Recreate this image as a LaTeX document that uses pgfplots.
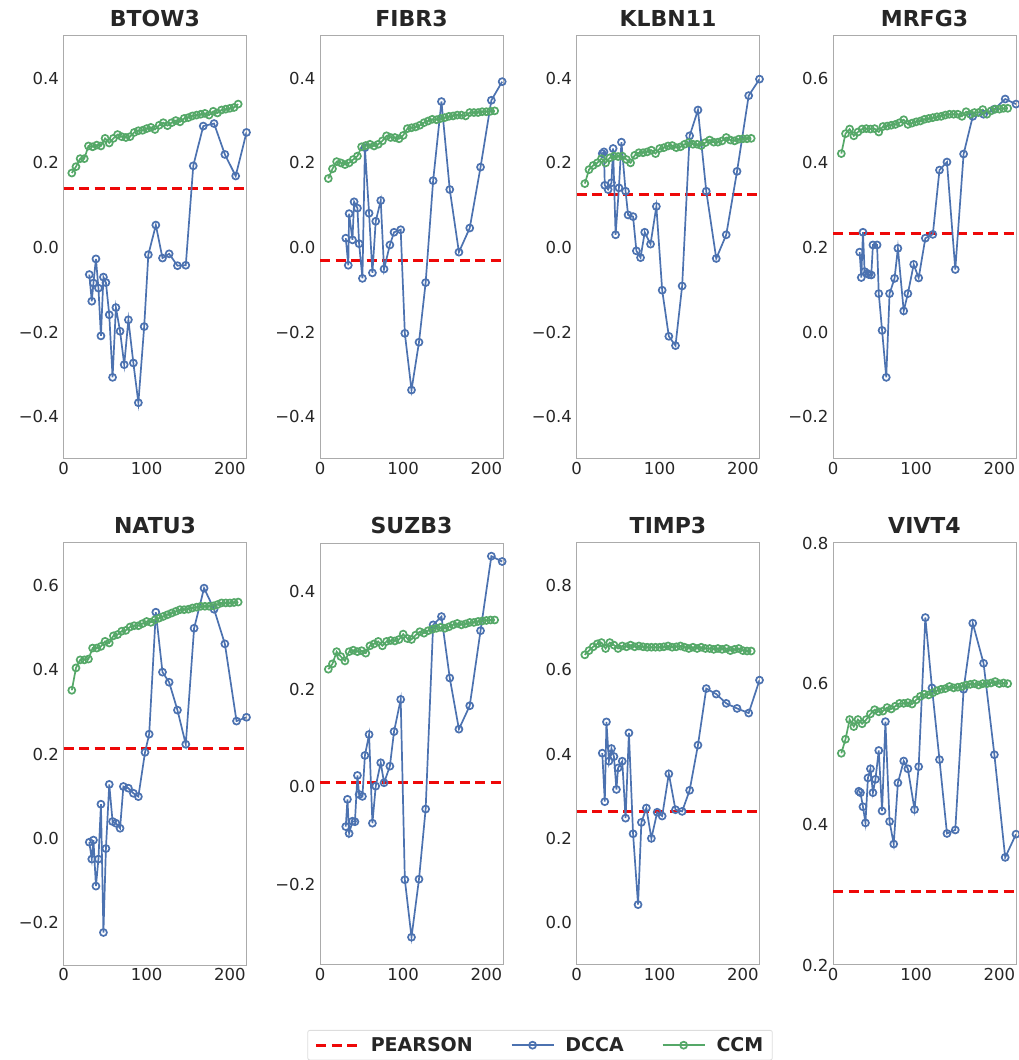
\documentclass[border=0pt]{standalone}
\usepackage{fontspec}
\setmainfont{DejaVu Sans}
\usepackage{pgfplots}
\pgfplotsset{compat=1.18}
\usepackage{pgfplotstable}

\definecolor{dccablue}{HTML}{4C72B0}
\definecolor{ccmgreen}{HTML}{55A868}
\definecolor{pearred}{HTML}{EE0808}
\definecolor{framegray}{HTML}{ABABAB}
\definecolor{txt}{HTML}{262626}
\definecolor{leggray}{HTML}{DDDDDD}

% CCM skill against library size, one column per stock
\pgfplotstableread{
x   BTOW3 FIBR3 KLBN11 MRFG3 NATU3 SUZB3 TIMP3 VIVT4
10  0.176 0.163 0.151 0.422 0.351 0.241 0.635 0.501
15  0.191 0.186 0.184 0.469 0.404 0.252 0.645 0.521
20  0.210 0.203 0.194 0.480 0.423 0.277 0.654 0.549
25  0.210 0.200 0.200 0.464 0.423 0.267 0.661 0.539
30  0.240 0.196 0.210 0.473 0.425 0.258 0.664 0.549
35  0.238 0.200 0.200 0.480 0.451 0.277 0.650 0.543
40  0.242 0.208 0.212 0.481 0.451 0.280 0.664 0.549
45  0.240 0.216 0.216 0.480 0.455 0.277 0.658 0.557
50  0.258 0.238 0.215 0.481 0.467 0.279 0.650 0.563
55  0.247 0.241 0.216 0.473 0.463 0.274 0.656 0.560
60  0.258 0.244 0.208 0.486 0.480 0.289 0.654 0.561
65  0.267 0.240 0.200 0.487 0.483 0.293 0.658 0.566
70  0.262 0.244 0.218 0.489 0.491 0.298 0.654 0.564
75  0.260 0.252 0.224 0.491 0.493 0.289 0.656 0.568
80  0.262 0.264 0.224 0.495 0.501 0.298 0.654 0.572
85  0.272 0.260 0.226 0.502 0.504 0.300 0.653 0.572
90  0.276 0.260 0.230 0.491 0.504 0.299 0.653 0.573
95  0.277 0.257 0.222 0.494 0.509 0.302 0.653 0.571
100 0.281 0.265 0.234 0.497 0.514 0.313 0.653 0.577
105 0.284 0.281 0.236 0.499 0.512 0.304 0.654 0.582
110 0.279 0.283 0.240 0.503 0.518 0.302 0.656 0.585
115 0.289 0.285 0.241 0.505 0.522 0.311 0.653 0.584
120 0.295 0.289 0.236 0.507 0.526 0.318 0.654 0.587
125 0.288 0.295 0.238 0.509 0.530 0.315 0.656 0.590
130 0.295 0.299 0.244 0.510 0.534 0.320 0.653 0.592
135 0.300 0.303 0.248 0.513 0.538 0.323 0.650 0.593
140 0.297 0.302 0.244 0.515 0.542 0.325 0.653 0.596
145 0.305 0.305 0.244 0.515 0.542 0.327 0.650 0.594
150 0.307 0.307 0.241 0.515 0.543 0.325 0.653 0.595
155 0.311 0.310 0.248 0.510 0.546 0.328 0.650 0.596
160 0.313 0.311 0.254 0.521 0.548 0.332 0.650 0.598
165 0.315 0.313 0.249 0.515 0.550 0.335 0.648 0.599
170 0.317 0.313 0.249 0.519 0.550 0.332 0.650 0.600
175 0.313 0.311 0.252 0.519 0.550 0.334 0.648 0.598
180 0.322 0.319 0.260 0.526 0.551 0.337 0.650 0.600
185 0.318 0.319 0.254 0.515 0.554 0.337 0.645 0.600
190 0.325 0.319 0.252 0.523 0.558 0.339 0.648 0.601
195 0.327 0.321 0.256 0.527 0.558 0.340 0.650 0.603
200 0.329 0.321 0.257 0.527 0.558 0.341 0.645 0.600
205 0.331 0.322 0.257 0.529 0.559 0.342 0.644 0.601
210 0.339 0.323 0.258 0.529 0.560 0.342 0.644 0.600
}\ccm

\pgfplotsset{
  panel/.style={
    scale only axis, width=183pt, anchor=south west,
    xmin=0, xmax=220, xtick={0,100,200}, xticklabels={0,100,200},
    major tick length=0pt,
    axis line style={draw=framegray, line width=1pt},
    tick label style={font=\fontsize{16.5}{19}\selectfont, text=txt},
    yticklabel style={xshift=-1pt},
    title style={font=\fontsize{22}{26}\selectfont\bfseries, text=txt,
                 at={(0.5,1)}, anchor=base, yshift=3pt},
    clip=true,
  },
  pear/.style={draw=pearred, line width=3pt, dash pattern=on 10pt off 5.5pt, mark=none},
  dcca/.style={draw=dccablue, line width=1.7pt, mark=o, mark size=3.5pt,
               mark options={solid, fill=white, draw=dccablue, line width=1.7pt}},
  ccm/.style={draw=ccmgreen, line width=1.7pt, mark=o, mark size=3.5pt,
              mark options={solid, fill=white, draw=ccmgreen, line width=1.7pt}},
}

\begin{document}
\begin{tikzpicture}
\useasboundingbox (0pt,0pt) rectangle (1019pt,1060pt);

% ---------------- first row ----------------
\begin{axis}[panel, height=423pt, at={(63.5pt,601pt)}, title={BTOW3},
  ymin=-0.5, ymax=0.5, ytick={-0.4,-0.2,0,0.2,0.4},
  yticklabels={−0.4,−0.2,0.0,0.2,0.4}]
\addplot[pear] coordinates {(0,0.140) (220,0.140)};
\addplot[dcca] coordinates {
 (31,-0.064) (34,-0.127) (36,-0.084) (39,-0.027) (42,-0.096) (45,-0.209)
 (48,-0.070) (51,-0.083) (55,-0.159) (59,-0.307) (63,-0.142) (68,-0.198)
 (73,-0.277) (78,-0.171) (84,-0.273) (90,-0.367) (97,-0.187) (102,-0.017)
 (111,0.053) (119,-0.025) (127,-0.015) (137,-0.043) (147,-0.042) (156,0.193)
 (168,0.287) (181,0.293) (194,0.220) (207,0.169) (220,0.272)};
\addplot[ccm] table[x=x, y=BTOW3] {\ccm};
\end{axis}

\begin{axis}[panel, height=423pt, at={(320pt,601pt)}, title={FIBR3},
  ymin=-0.5, ymax=0.5, ytick={-0.4,-0.2,0,0.2,0.4},
  yticklabels={−0.4,−0.2,0.0,0.2,0.4}]
\addplot[pear] coordinates {(0,-0.030) (220,-0.030)};
\addplot[dcca] coordinates {
 (31,0.022) (34,-0.042) (35,0.080) (39,0.018) (41,0.108) (45,0.093)
 (47,0.009) (51,-0.073) (54,0.236) (59,0.081) (63,-0.060) (67,0.062)
 (73,0.111) (77,-0.051) (84,0.006) (89,0.036) (97,0.042) (102,-0.203)
 (110,-0.337) (119,-0.224) (127,-0.083) (136,0.158) (146,0.345) (156,0.137)
 (167,-0.011) (180,0.046) (193,0.190) (206,0.348) (219,0.392)};
\addplot[ccm] table[x=x, y=FIBR3] {\ccm};
\end{axis}

\begin{axis}[panel, height=423pt, at={(576.5pt,601pt)}, title={KLBN11},
  ymin=-0.5, ymax=0.5, ytick={-0.4,-0.2,0,0.2,0.4},
  yticklabels={−0.4,−0.2,0.0,0.2,0.4}]
\addplot[pear] coordinates {(0,0.126) (220,0.126)};
\addplot[dcca] coordinates {
 (31,0.222) (33,0.226) (34,0.147) (38,0.137) (42,0.153) (44,0.234)
 (47,0.030) (51,0.141) (54,0.249) (59,0.133) (62,0.077) (68,0.073)
 (72,-0.008) (77,-0.024) (82,0.036) (89,0.008) (96,0.097) (103,-0.101)
 (111,-0.210) (119,-0.232) (127,-0.091) (136,0.264) (146,0.325) (156,0.133)
 (168,-0.026) (180,0.030) (193,0.180) (207,0.359) (220,0.398)};
\addplot[ccm] table[x=x, y=KLBN11] {\ccm};
\end{axis}

\begin{axis}[panel, height=423pt, at={(833pt,601pt)}, title={MRFG3},
  ymin=-0.3, ymax=0.7, ytick={-0.2,0,0.2,0.4,0.6},
  yticklabels={−0.2,0.0,0.2,0.4,0.6}]
\addplot[pear] coordinates {(0,0.232) (220,0.232)};
\addplot[dcca] coordinates {
 (32,0.189) (34,0.129) (36,0.236) (38,0.143) (41,0.139) (43,0.136)
 (46,0.135) (48,0.206) (53,0.206) (55,0.091) (59,0.004) (64,-0.107)
 (68,0.091) (74,0.127) (78,0.198) (85,0.050) (90,0.091) (97,0.160)
 (103,0.128) (111,0.222) (120,0.231) (128,0.383) (137,0.402) (147,0.148)
 (157,0.421) (168,0.510) (181,0.515) (194,0.527) (207,0.551) (220,0.539)};
\addplot[ccm] table[x=x, y=MRFG3] {\ccm};
\end{axis}

% ---------------- second row ----------------
\begin{axis}[panel, height=422pt, at={(63.5pt,95pt)}, title={NATU3},
  ymin=-0.3, ymax=0.7, ytick={-0.2,0,0.2,0.4,0.6},
  yticklabels={−0.2,0.0,0.2,0.4,0.6},
  legend columns=3,
  legend style={at={(2.604,-0.154)}, anchor=north, draw=leggray, line width=0.8pt,
    rounded corners=2pt, fill=white, text=txt,
    font=\fontsize{19}{22}\selectfont\bfseries,
    inner xsep=7pt, inner ysep=5pt,
    /tikz/every odd column/.append style={column sep=9pt},
    /tikz/every even column/.append style={column sep=36pt}},
  legend image code/.code={\draw[mark repeat=2, mark phase=2, #1]
    plot coordinates {(0pt,0pt) (21pt,0pt) (42pt,0pt)};}]
\addplot[pear] coordinates {(0,0.214) (220,0.214)};
\addlegendentry{PEARSON}
\addplot[dcca] coordinates {
 (31,-0.009) (34,-0.049) (36,-0.004) (39,-0.113) (42,-0.049) (45,0.081)
 (48,-0.223) (51,-0.024) (55,0.128) (59,0.040) (63,0.036) (68,0.024)
 (72,0.123) (78,0.119) (84,0.107) (90,0.099) (98,0.204) (103,0.247)
 (111,0.536) (119,0.394) (127,0.370) (137,0.304) (147,0.223) (157,0.498)
 (169,0.593) (181,0.543) (194,0.461) (208,0.278) (220,0.287)};
\addlegendentry{DCCA}
\addplot[ccm] table[x=x, y=NATU3] {\ccm};
\addlegendentry{CCM}
\end{axis}

\begin{axis}[panel, height=422pt, at={(320pt,95pt)}, title={SUZB3},
  ymin=-0.366, ymax=0.5, ytick={-0.2,0,0.2,0.4},
  yticklabels={−0.2,0.0,0.2,0.4}]
\addplot[pear] coordinates {(0,0.008) (220,0.008)};
\addplot[dcca] coordinates {
 (31,-0.082) (33,-0.026) (35,-0.096) (39,-0.071) (42,-0.072) (45,0.023)
 (47,-0.016) (51,-0.020) (54,0.064) (59,0.107) (63,-0.075) (67,0.001)
 (73,0.049) (77,0.008) (84,0.042) (89,0.113) (97,0.179) (102,-0.191)
 (110,-0.309) (119,-0.190) (127,-0.046) (136,0.332) (146,0.349) (156,0.223)
 (167,0.118) (180,0.166) (193,0.320) (206,0.473) (219,0.462)};
\addplot[ccm] table[x=x, y=SUZB3] {\ccm};
\end{axis}

\begin{axis}[panel, height=422pt, at={(576.5pt,95pt)}, title={TIMP3},
  ymin=-0.1, ymax=0.9, ytick={0,0.2,0.4,0.6,0.8},
  yticklabels={0.0,0.2,0.4,0.6,0.8}]
\addplot[pear] coordinates {(0,0.264) (220,0.264)};
\addplot[dcca] coordinates {
 (31,0.402) (34,0.287) (36,0.476) (39,0.383) (42,0.413) (45,0.394)
 (48,0.316) (50,0.367) (55,0.383) (59,0.248) (63,0.450) (68,0.211)
 (74,0.043) (78,0.238) (84,0.272) (90,0.200) (97,0.262) (103,0.253)
 (111,0.353) (119,0.268) (127,0.264) (136,0.314) (146,0.421) (156,0.555)
 (168,0.542) (180,0.520) (193,0.508) (207,0.497) (220,0.575)};
\addplot[ccm] table[x=x, y=TIMP3] {\ccm};
\end{axis}

\begin{axis}[panel, height=422pt, at={(833pt,95pt)}, title={VIVT4},
  ymin=0.2, ymax=0.8, ytick={0.2,0.4,0.6,0.8},
  yticklabels={0.2,0.4,0.6,0.8}]
\addplot[pear] coordinates {(0,0.304) (220,0.304)};
\addplot[dcca] coordinates {
 (31,0.447) (33,0.445) (36,0.425) (39,0.402) (42,0.466) (45,0.479)
 (48,0.445) (51,0.464) (55,0.505) (59,0.419) (63,0.546) (68,0.404)
 (73,0.372) (78,0.459) (85,0.490) (90,0.479) (98,0.421) (103,0.482)
 (111,0.694) (119,0.594) (128,0.492) (137,0.387) (147,0.392) (157,0.592)
 (168,0.686) (181,0.629) (194,0.499) (207,0.353) (220,0.386)};
\addplot[ccm] table[x=x, y=VIVT4] {\ccm};
\end{axis}
\end{tikzpicture}
\end{document}
